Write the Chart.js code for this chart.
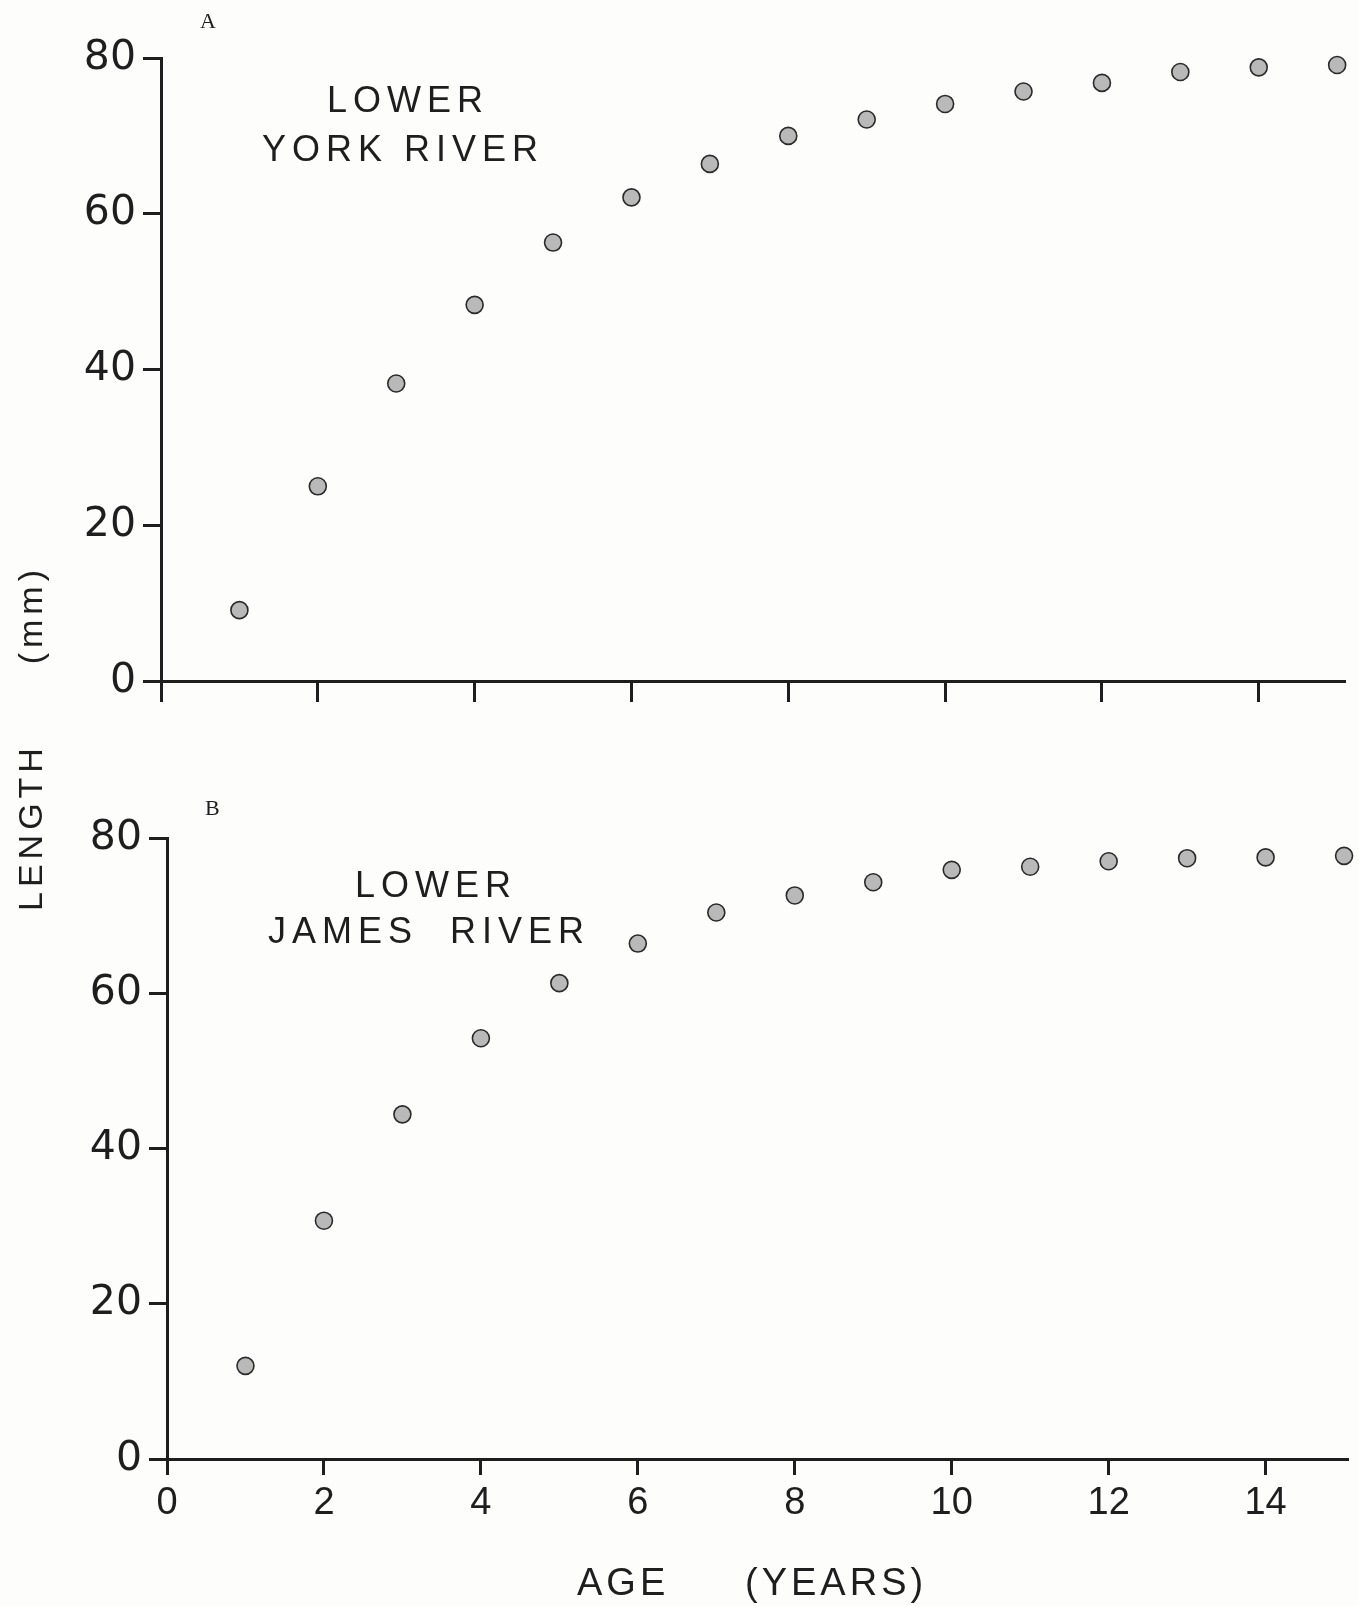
<!DOCTYPE html>
<html>
<head>
<meta charset="utf-8">
<script src="https://cdn.jsdelivr.net/npm/chart.js@4.4.1/dist/chart.umd.min.js"></script>
<style>
  body { margin: 0; background: #fff; }
  #wrap { position: relative; width: 1359px; height: 1606px; overflow: hidden; background: #fdfdfc; }
  canvas { position: absolute; left: 0; }
  .txt { position: absolute; font-family: "Liberation Sans", sans-serif; color: #1e1e1e; white-space: nowrap; }
  .lab { font-size: 36px; letter-spacing: 6px; line-height: 1; }
  .panel { font-family: "Liberation Serif", serif; font-size: 22px; }
</style>
</head>
<body>
<div id="wrap">
  <canvas id="chartA" width="1359" height="740" style="top:0"></canvas>
  <canvas id="chartB" width="1359" height="846" style="top:760px"></canvas>

  <div class="txt panel" style="left:200px; top:8px;">A</div>
  <div class="txt panel" style="left:205px; top:795px;">B</div>

  <div class="txt lab" style="left:327px; top:82px;">LOWER</div>
  <div class="txt lab" style="left:262px; top:131px;">YORK RIVER</div>
  <div class="txt lab" style="left:355px; top:867px;">LOWER</div>
  <div class="txt lab" style="left:268px; top:913px;">JAMES&nbsp;&nbsp;RIVER</div>

  <div class="txt" style="left:-143px; top:718px; width:346px; height:40px; transform: rotate(-90deg); font-size:34px; letter-spacing:5px; display:flex; justify-content:space-between; align-items:center;">
    <span>LENGTH</span><span>(mm)</span>
  </div>

  <div class="txt" style="left:577px; top:1563px; font-size:38px; letter-spacing:4px; line-height:1;">AGE</div>
  <div class="txt" style="left:745px; top:1563px; font-size:38px; letter-spacing:4px; line-height:1;">(YEARS)</div>
</div>

<script>
const ages = [1, 2, 3, 4, 5, 6, 7, 8, 9, 10, 11, 12, 13, 14, 15];
const yorkLength = [9.1, 25.0, 38.2, 48.3, 56.3, 62.1, 66.4, 70.0, 72.1, 74.1, 75.7, 76.8, 78.2, 78.8, 79.1];
const jamesLength = [12.0, 30.7, 44.4, 54.2, 61.3, 66.4, 70.4, 72.6, 74.3, 75.9, 76.3, 77.0, 77.4, 77.5, 77.7];
const yTicks = [0, 20, 40, 60, 80];
const xTicks = [0, 2, 4, 6, 8, 10, 12, 14];

const ink = "#1e1e1e";

function makeChart(id, values, opts) {
  const ctx = document.getElementById(id).getContext("2d");
  return new Chart(ctx, {
    type: "scatter",
    data: {
      datasets: [{
        data: ages.map((a, i) => ({ x: a, y: values[i] })),
        pointStyle: "circle",
        pointRadius: 8.5,
        pointHoverRadius: 8.5,
        backgroundColor: "#b9b9b9",
        borderColor: "#2a2a2a",
        borderWidth: 1.6,
        clip: false
      }]
    },
    options: {
      responsive: false,
      animation: false,
      events: [],
      layout: { padding: opts.padding },
      plugins: { legend: { display: false }, tooltip: { enabled: false } },
      scales: {
        x: {
          type: "linear",
          min: 0,
          max: opts.xMax,
          afterBuildTicks: (scale) => { scale.ticks = xTicks.map(v => ({ value: v })); },
          afterFit: (scale) => { scale.height = opts.xHeight; },
          border: { display: true, color: ink, width: 3 },
          grid: { drawOnChartArea: false, drawTicks: true, tickLength: opts.xTickLen, tickColor: ink, tickWidth: 3 },
          ticks: {
            display: opts.xLabels,
            color: ink,
            padding: 6,
            font: { family: "Liberation Sans", size: 38 }
          }
        },
        y: {
          min: 0,
          max: 80,
          afterBuildTicks: (scale) => { scale.ticks = yTicks.map(v => ({ value: v })); },
          afterFit: (scale) => { scale.width = 161; },
          border: { display: true, color: ink, width: 3 },
          grid: { drawOnChartArea: false, drawTicks: true, tickLength: 18, tickColor: ink, tickWidth: 3 },
          ticks: {
            color: ink,
            padding: 7,
            font: { family: "DejaVu Sans", size: 41 }
          }
        }
      }
    }
  });
}

makeChart("chartA", yorkLength, {
  padding: { top: 58, right: 14, bottom: 0, left: 0 },
  xMax: 15.1,
  xHeight: 59,
  xTickLen: 21,
  xLabels: false
});

makeChart("chartB", jamesLength, {
  padding: { top: 78, right: 11, bottom: 0, left: 6 },
  xMax: 15.05,
  xHeight: 147,
  xTickLen: 16,
  xLabels: true
});
</script>
</body>
</html>
